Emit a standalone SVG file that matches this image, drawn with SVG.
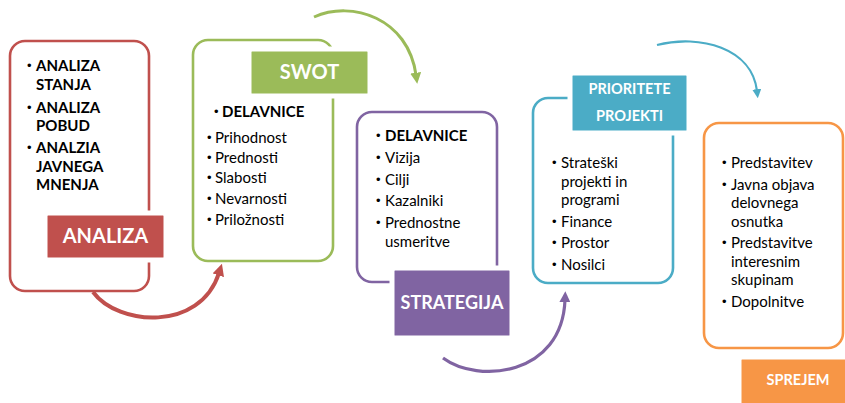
<svg xmlns="http://www.w3.org/2000/svg" width="845" height="403" viewBox="0 0 845 403">
<style>
.box{fill:#fff;stroke-width:2.6}
.lab{stroke:#fff;stroke-width:5}
.t{font-family:Lato,"Liberation Sans",sans-serif;font-size:15px;fill:#000}
.bu{font-family:"Liberation Sans",sans-serif;font-size:13px;fill:#000}
.b{font-weight:bold}
.lt{font-family:Lato,"Liberation Sans",sans-serif;font-weight:bold;fill:#fff;text-anchor:middle}
.arc{fill:none}
</style>
<defs>
<marker id="mr" markerWidth="12" markerHeight="12" refX="2" refY="5" orient="auto" markerUnits="userSpaceOnUse" viewBox="0 0 10 10"><path d="M0,0 L10,5 L0,10 Z" fill="#C0504D"/></marker>
<marker id="mg" markerWidth="11" markerHeight="11" refX="2" refY="5" orient="auto" markerUnits="userSpaceOnUse" viewBox="0 0 10 10"><path d="M0,0 L10,5 L0,10 Z" fill="#9BBB59"/></marker>
<marker id="mp" markerWidth="11" markerHeight="11" refX="2" refY="5" orient="auto" markerUnits="userSpaceOnUse" viewBox="0 0 10 10"><path d="M0,0 L10,5 L0,10 Z" fill="#8064A2"/></marker>
<marker id="mt" markerWidth="9" markerHeight="9" refX="2" refY="5" orient="auto" markerUnits="userSpaceOnUse" viewBox="0 0 10 10"><path d="M0,0 L10,5 L0,10 Z" fill="#4BACC6"/></marker>
</defs>
<rect width="845" height="403" fill="#fff"/>

<g id="connectors">
<path class="arc" d="M93,292 C118,326 200,332 219,273" stroke="#C0504D" stroke-width="4" marker-end="url(#mr)"/>
<path class="arc" d="M314,17 C352,0 408,18 416,75" stroke="#9BBB59" stroke-width="3" marker-end="url(#mg)"/>
<path class="arc" d="M443,358 C478,384 562,376 565,300" stroke="#8064A2" stroke-width="3.2" marker-end="url(#mp)"/>
<path class="arc" d="M657,45 C700,34 752,48 757,91" stroke="#4BACC6" stroke-width="2.2" marker-end="url(#mt)"/>
</g>

<g id="analiza">
<rect class="box" x="10" y="41" width="139" height="250" rx="15" stroke="#C0504D"/>
<text class="bu" x="27" y="70">•</text><text class="t b" x="36" y="71">ANALIZA</text>
<text class="t b" x="36" y="90">STANJA</text>
<text class="bu" x="27" y="112">•</text><text class="t b" x="36" y="113">ANALIZA</text>
<text class="t b" x="36" y="131">POBUD</text>
<text class="bu" x="27" y="152">•</text><text class="t b" x="36" y="153">ANALZIA</text>
<text class="t b" x="36" y="172">JAVNEGA</text>
<text class="t b" x="36" y="190">MNENJA</text>
<rect class="lab" x="45" y="213" width="121" height="47" rx="3" fill="#C0504D"/>
<text class="lt" x="105.5" y="243" font-size="20">ANALIZA</text>
</g>

<g id="swot">
<rect class="box" x="193" y="40" width="140" height="221" rx="15" stroke="#9BBB59"/>
<rect class="lab" x="249" y="49" width="121" height="47" rx="3" fill="#9BBB59"/>
<text class="lt" x="309.5" y="79" font-size="20">SWOT</text>
<text class="bu" x="214" y="116">•</text><text class="t b" x="222" y="117">DELAVNICE</text>
<text class="bu" x="207" y="142">•</text><text class="t" x="215" y="143">Prihodnost</text>
<text class="bu" x="207" y="162">•</text><text class="t" x="215" y="163">Prednosti</text>
<text class="bu" x="207" y="182">•</text><text class="t" x="215" y="183">Slabosti</text>
<text class="bu" x="207" y="203">•</text><text class="t" x="215" y="204">Nevarnosti</text>
<text class="bu" x="207" y="224">•</text><text class="t" x="215" y="225">Priložnosti</text>
</g>

<g id="strategija">
<rect class="box" x="357" y="112" width="140" height="170" rx="15" stroke="#8064A2"/>
<text class="bu" x="376" y="140">•</text><text class="t b" x="385" y="141">DELAVNICE</text>
<text class="bu" x="376" y="162">•</text><text class="t" x="385" y="163">Vizija</text>
<text class="bu" x="376" y="184">•</text><text class="t" x="385" y="185">Cilji</text>
<text class="bu" x="376" y="205">•</text><text class="t" x="385" y="206">Kazalniki</text>
<text class="bu" x="376" y="227">•</text><text class="t" x="385" y="228">Prednostne</text>
<text class="t" x="385" y="247">usmeritve</text>
<rect class="lab" x="392" y="268" width="120" height="70" rx="3" fill="#8064A2"/>
<text class="lt" x="452" y="309" font-size="18">STRATEGIJA</text>
</g>

<g id="prioritete">
<rect class="box" x="533" y="98" width="140" height="185" rx="15" stroke="#4BACC6"/>
<rect class="lab" x="570" y="73" width="119" height="60" rx="3" fill="#4BACC6"/>
<text class="lt" x="629.5" y="94" font-size="14.5">PRIORITETE</text>
<text class="lt" x="629.5" y="121" font-size="14.5">PROJEKTI</text>
<text class="bu" x="552" y="167">•</text><text class="t" x="561" y="168">Strateški</text>
<text class="t" x="561" y="187">projekti in</text>
<text class="t" x="561" y="205">programi</text>
<text class="bu" x="552" y="226">•</text><text class="t" x="561" y="227">Finance</text>
<text class="bu" x="552" y="247">•</text><text class="t" x="561" y="248">Prostor</text>
<text class="bu" x="552" y="269">•</text><text class="t" x="561" y="270">Nosilci</text>
</g>

<g id="sprejem">
<rect class="box" x="704" y="123" width="139" height="225" rx="15" stroke="#F79646"/>
<text class="bu" x="722" y="167">•</text><text class="t" x="731" y="168">Predstavitev</text>
<text class="bu" x="722" y="189">•</text><text class="t" x="731" y="190">Javna objava</text>
<text class="t" x="731" y="208">delovnega</text>
<text class="t" x="731" y="227">osnutka</text>
<text class="bu" x="722" y="247">•</text><text class="t" x="731" y="248">Predstavitve</text>
<text class="t" x="731" y="267">interesnim</text>
<text class="t" x="731" y="285">skupinam</text>
<text class="bu" x="722" y="306">•</text><text class="t" x="731" y="307">Dopolnitve</text>
<rect class="lab" x="739" y="357" width="115" height="55" rx="3" fill="#F79646"/>
<text class="lt" x="798" y="385" font-size="14.5">SPREJEM</text>
</g>
</svg>
